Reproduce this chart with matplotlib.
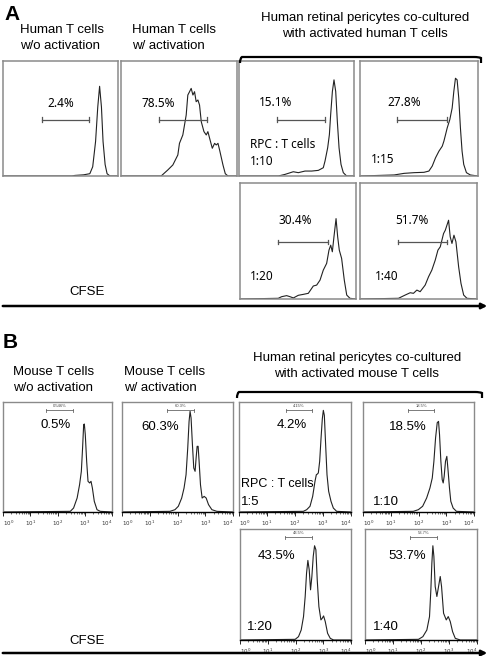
import matplotlib
matplotlib.use('Agg')
import matplotlib.pyplot as plt
from matplotlib.path import Path
from matplotlib.patches import PathPatch, FancyArrowPatch
from matplotlib.ticker import LogLocator, NullFormatter, FixedLocator
import numpy as np

W, H = 492, 656

# ---- panel A: CFSE histograms (x = fraction of channel range, y = fraction of panel height)
a_pct = ['2.4%', '78.5%', '15.1%', '27.8%', '30.4%', '51.7%']
a_ratio = ['', '', '1:10', '1:15', '1:20', '1:40']
a_gate = [(0.337, 0.75), (0.326, 0.744), (0.328, 0.748), (0.317, 0.739), (0.33, 0.756), (0.329, 0.743)]

a1_x = [0.0, 0.6, 0.625, 0.70, 0.755, 0.78, 0.805, 0.824, 0.84, 0.856, 0.87, 0.888, 0.905, 0.93, 1.0]
a1_y = [0.0, 0.0, 0.005, 0.01, 0.02, 0.08, 0.3, 0.6, 0.78, 0.6, 0.3, 0.1, 0.02, 0.0, 0.0]

a2_x = [0.0, 0.346, 0.403, 0.447, 0.49, 0.504, 0.533, 0.562, 0.576, 0.591, 0.605, 0.62, 0.634, 0.648,
        0.663, 0.677, 0.692, 0.715, 0.735, 0.749, 0.764, 0.787, 0.807, 0.821, 0.836, 0.85, 0.879,
        0.899, 0.922, 1.0]
a2_y = [0.0, 0.0, 0.052, 0.096, 0.183, 0.284, 0.357, 0.53, 0.704, 0.733, 0.762, 0.704, 0.733, 0.646,
        0.661, 0.617, 0.472, 0.386, 0.357, 0.386, 0.328, 0.241, 0.284, 0.27, 0.284, 0.226, 0.096,
        0.02, 0.0, 0.0]

a3_x = [0.0, 0.342, 0.4, 0.472, 0.516, 0.574, 0.632, 0.69, 0.733, 0.748, 0.771, 0.786, 0.797, 0.812,
        0.826, 0.841, 0.855, 0.87, 0.887, 0.907, 0.936, 1.0]
a3_y = [0.0, 0.0, 0.014, 0.037, 0.029, 0.043, 0.043, 0.049, 0.072, 0.13, 0.245, 0.36, 0.533, 0.735,
        0.836, 0.735, 0.476, 0.245, 0.101, 0.029, 0.0, 0.0]

a4_x = [0.0, 0.289, 0.374, 0.458, 0.542, 0.584, 0.612, 0.64, 0.669, 0.697, 0.711, 0.725, 0.739, 0.761,
        0.781, 0.795, 0.809, 0.823, 0.837, 0.851, 0.865, 0.879, 0.902, 0.935, 1.0]
a4_y = [0.0, 0.009, 0.023, 0.029, 0.032, 0.043, 0.086, 0.158, 0.216, 0.259, 0.303, 0.36, 0.418, 0.49,
        0.591, 0.735, 0.85, 0.836, 0.677, 0.418, 0.216, 0.101, 0.029, 0.009, 0.0]

a5_x = [0.0, 0.33, 0.359, 0.402, 0.431, 0.46, 0.503, 0.546, 0.589, 0.632, 0.661, 0.69, 0.718, 0.747,
        0.767, 0.782, 0.796, 0.81, 0.828, 0.842, 0.856, 0.876, 0.899, 0.92, 0.948, 1.0]
a5_y = [0.0, 0.006, 0.02, 0.029, 0.02, 0.009, 0.032, 0.04, 0.049, 0.112, 0.12, 0.163, 0.249, 0.307,
        0.421, 0.464, 0.407, 0.536, 0.693, 0.536, 0.421, 0.35, 0.163, 0.034, 0.006, 0.0]

a6_x = [0.0, 0.329, 0.386, 0.429, 0.457, 0.486, 0.514, 0.557, 0.586, 0.614, 0.643, 0.666, 0.686, 0.7,
        0.714, 0.729, 0.743, 0.757, 0.771, 0.786, 0.803, 0.82, 0.843, 0.863, 0.886, 0.914, 1.0]
a6_y = [0.0, 0.006, 0.034, 0.054, 0.049, 0.077, 0.063, 0.12, 0.192, 0.249, 0.335, 0.421, 0.45, 0.507,
        0.564, 0.593, 0.636, 0.679, 0.536, 0.479, 0.55, 0.493, 0.278, 0.135, 0.034, 0.006, 0.0]

# ---- panel B: CFSE histograms (x = log10 fluorescence, y = fraction of panel height)
b_pct = ['0.5%', '60.3%', '4.2%', '18.5%', '43.5%', '53.7%']
b_gate_lbl = ['0.546%', '60.3%', '4.15%', '18.5%', '43.5%', '53.7%']
b_ratio = ['', '', '1:5', '1:10', '1:20', '1:40']
b_gate = [(1.59, 2.57), (1.63, 2.6), (1.667, 2.619), (1.636, 2.567), (1.627, 2.59), (1.612, 2.567)]
decade_labels = [r'$10^{0}$', r'$10^{1}$', r'$10^{2}$', r'$10^{3}$', r'$10^{4}$']

b1_x = [0.0, 2.47, 2.59, 2.72, 2.81, 2.875, 2.92, 2.96, 2.985, 3.02, 3.07, 3.12, 3.18, 3.23, 3.28,
        3.35, 3.45, 3.57, 4.0]
b1_y = [0.0, 0.006, 0.036, 0.127, 0.248, 0.37, 0.58, 0.794, 0.8, 0.703, 0.461, 0.279, 0.264, 0.279,
        0.218, 0.097, 0.021, 0.006, 0.0]

b2_x = [0.0, 1.728, 1.909, 2.03, 2.151, 2.236, 2.308, 2.369, 2.417, 2.453, 2.489, 2.538, 2.586, 2.634,
        2.671, 2.707, 2.743, 2.779, 2.828, 2.888, 2.961, 3.033, 3.118, 3.239, 3.42, 4.0]
b2_y = [0.0, 0.006, 0.021, 0.052, 0.127, 0.218, 0.339, 0.582, 0.824, 0.915, 0.855, 0.612, 0.4, 0.37,
        0.491, 0.597, 0.597, 0.458, 0.248, 0.127, 0.142, 0.127, 0.067, 0.021, 0.006, 0.0]

b3_x = [0.0, 2.298, 2.417, 2.536, 2.631, 2.714, 2.762, 2.798, 2.833, 2.881, 2.929, 2.976, 3.012, 3.048,
        3.095, 3.143, 3.202, 3.286, 3.369, 3.488, 4.0]
b3_y = [0.0, 0.006, 0.021, 0.052, 0.142, 0.279, 0.339, 0.345, 0.355, 0.461, 0.667, 0.848, 0.924, 0.879,
        0.606, 0.339, 0.188, 0.097, 0.036, 0.006, 0.0]

b4_x = [0.0, 1.815, 1.994, 2.149, 2.293, 2.412, 2.496, 2.555, 2.615, 2.675, 2.722, 2.758, 2.806, 2.854,
        2.89, 2.925, 2.973, 3.021, 3.069, 3.116, 3.164, 3.248, 3.367, 4.0]
b4_y = [0.0, 0.006, 0.021, 0.052, 0.127, 0.218, 0.309, 0.461, 0.673, 0.812, 0.824, 0.703, 0.461, 0.294,
        0.264, 0.324, 0.461, 0.506, 0.367, 0.218, 0.097, 0.036, 0.006, 0.0]

b5_x = [0.0, 1.988, 2.108, 2.205, 2.289, 2.349, 2.398, 2.446, 2.494, 2.542, 2.59, 2.639, 2.687, 2.735,
        2.783, 2.843, 2.916, 2.964, 3.012, 3.072, 3.157, 3.253, 3.373, 4.0]
b5_y = [0.0, 0.006, 0.03, 0.09, 0.211, 0.392, 0.602, 0.717, 0.633, 0.452, 0.572, 0.753, 0.849, 0.813,
        0.542, 0.301, 0.181, 0.196, 0.217, 0.166, 0.06, 0.015, 0.0, 0.0]

b6_x = [0.0, 1.91, 2.066, 2.209, 2.304, 2.352, 2.388, 2.424, 2.46, 2.507, 2.567, 2.627, 2.687, 2.734,
        2.806, 2.902, 2.973, 3.045, 3.128, 3.224, 3.403, 4.0]
b6_y = [0.0, 0.006, 0.03, 0.09, 0.211, 0.452, 0.693, 0.849, 0.753, 0.482, 0.392, 0.482, 0.572, 0.482,
        0.241, 0.181, 0.211, 0.166, 0.075, 0.015, 0.0, 0.0]

a_curves = [(a1_x, a1_y), (a2_x, a2_y), (a3_x, a3_y), (a4_x, a4_y), (a5_x, a5_y), (a6_x, a6_y)]
b_curves = [(b1_x, b1_y), (b2_x, b2_y), (b3_x, b3_y), (b4_x, b4_y), (b5_x, b5_y), (b6_x, b6_y)]

# panel boxes in pixels (left, top, right, bottom)
a_boxes = [(3, 61, 118, 176), (121, 61, 237, 176), (239, 61, 354, 176),
           (360, 61, 478, 176), (240, 183, 356, 299), (360, 183, 477, 299)]
b_boxes = [(3, 402, 112, 512), (122, 402, 233, 512), (239, 402, 351, 512),
           (363, 402, 474, 512), (240, 529, 351, 640), (365, 529, 477, 640)]

# label positions (axes fraction) for each panel
a_pct_pos = [(0.5, 0.63), (0.317, 0.63), (0.319, 0.64), (0.374, 0.64), (0.474, 0.673), (0.443, 0.673)]
a_ratio_pos = [None, None, (0.096, 0.13), (0.093, 0.144), (0.086, 0.192), (0.123, 0.192)]
b_pct_pos = [(0.485, 0.788), (0.341, 0.773), (0.47, 0.788), (0.403, 0.773), (0.331, 0.753), (0.373, 0.753)]
b_ratio_pos = [None, None, (0.018, 0.09), (0.09, 0.09), (0.06, 0.12), (0.075, 0.12)]

SANS = 'Liberation Sans'
HUMAN = 'Noto Sans'

fig = plt.figure(figsize=(W / 100, H / 100), dpi=100)
fig.patch.set_facecolor('white')


def px_axes(box):
    l, t, r, b = box
    return fig.add_axes([l / W, 1 - b / H, (r - l) / W, (b - t) / H])


def fig_text(x, y, s, **kw):
    fig.text(x / W, 1 - y / H, s, **kw)


def brace(x0, x1, y):
    # curly bracket over the co-culture panels (figure pixel coords)
    pts = [(x0, y + 6), (x0, y + 1), (x0 + 2, y), (x0 + 7, y),
           (x1 - 7, y), (x1 - 2, y), (x1, y + 1), (x1, y + 6)]
    pts = [(px / W, 1 - py / H) for px, py in pts]
    codes = [Path.MOVETO, Path.CURVE3, Path.CURVE3, Path.LINETO,
             Path.LINETO, Path.CURVE3, Path.CURVE3, Path.LINETO]
    fig.add_artist(PathPatch(Path(pts, codes), transform=fig.transFigure,
                             fill=False, lw=1.6, color='black'))


def axis_arrow(y):
    fig.add_artist(FancyArrowPatch((0, 1 - y / H), (490 / W, 1 - y / H), transform=fig.transFigure,
                                   arrowstyle='-|>', mutation_scale=8, lw=1.8, color='black'))


def gate(ax, x0, x1, y, color, cap, lw):
    ax.plot([x0, x1], [y, y], color=color, lw=lw)
    for xx in (x0, x1):
        ax.plot([xx, xx], [y - cap, y + cap], color=color, lw=lw)


# ---------------- A ----------------
for i, box in enumerate(a_boxes):
    ax = px_axes(box)
    x, y = a_curves[i]
    ax.plot(x, y, color='#222222', lw=0.8)
    ax.set_xlim(0, 1)
    ax.set_ylim(0, 1)
    ax.set_xticks([])
    ax.set_yticks([])
    for s in ax.spines.values():
        s.set_color('#8a8a8a')
        s.set_linewidth(1.1)
    g0, g1 = a_gate[i]
    gate(ax, g0, g1, 0.49, '#555555', 0.02, 0.9)
    ax.text(*a_pct_pos[i], a_pct[i], transform=ax.transAxes, ha='center', va='center',
            fontsize=8.5, family=HUMAN)
    if a_ratio_pos[i] is not None:
        ax.text(*a_ratio_pos[i], a_ratio[i], transform=ax.transAxes, ha='left', va='center',
                fontsize=8.5, family=HUMAN)
    if i == 2:
        ax.text(0.096, 0.274, 'RPC : T cells', transform=ax.transAxes, ha='left', va='center',
                fontsize=8.5, family=HUMAN)

fig_text(4, 15, 'A', fontsize=15, fontweight='bold', family=SANS, va='center')
fig_text(20, 30, 'Human T cells', fontsize=9.5, family=SANS, va='center')
fig_text(20, 46, 'w/o activation', fontsize=9.5, family=SANS, va='center')
fig_text(132, 30, 'Human T cells', fontsize=9.5, family=SANS, va='center')
fig_text(132, 46, 'w/ activation', fontsize=9.5, family=SANS, va='center')
fig_text(365, 18, 'Human retinal pericytes co-cultured', fontsize=9.5, family=SANS, va='center', ha='center')
fig_text(365, 34, 'with activated human T cells', fontsize=9.5, family=SANS, va='center', ha='center')
brace(240, 481, 57)
fig_text(87, 292, 'CFSE', fontsize=9.5, family=SANS, va='center', ha='center')
axis_arrow(306)

# ---------------- B ----------------
for i, box in enumerate(b_boxes):
    ax = px_axes(box)
    x, y = b_curves[i]
    ax.plot(10 ** np.array(x), y, color='#222222', lw=0.8)
    ax.set_xscale('log')
    ax.set_xlim(1, 1e4)
    ax.set_ylim(0, 1)
    ax.set_yticks([])
    ax.xaxis.set_major_locator(FixedLocator([1, 10, 100, 1000, 10000]))
    ax.set_xticklabels(decade_labels)
    ax.xaxis.set_minor_locator(LogLocator(base=10, subs=np.arange(2, 10)))
    ax.xaxis.set_minor_formatter(NullFormatter())
    ax.tick_params(axis='x', which='major', length=3, width=0.6, labelsize=4,
                   labelcolor='#333333', pad=1.5, direction='out')
    ax.tick_params(axis='x', which='minor', length=1.5, width=0.4, direction='out')
    tl = ax.get_xticklabels()
    tl[0].set_horizontalalignment('left')
    tl[-1].set_horizontalalignment('right')
    for s in ax.spines.values():
        s.set_color('#8a8a8a')
        s.set_linewidth(1.0)
    ax.spines['bottom'].set_color('black')
    g0, g1 = b_gate[i]
    gate(ax, 10 ** g0, 10 ** g1, 0.925, '#666666', 0.015, 0.6)
    ax.text(10 ** ((g0 + g1) / 2), 0.965, b_gate_lbl[i], ha='center', va='center',
            fontsize=3, family=SANS, color='#444444')
    ax.text(*b_pct_pos[i], b_pct[i], transform=ax.transAxes, ha='center', va='center',
            fontsize=9.5, family=SANS)
    if b_ratio_pos[i] is not None:
        ax.text(*b_ratio_pos[i], b_ratio[i], transform=ax.transAxes, ha='left', va='center',
                fontsize=9.5, family=SANS)
    if i == 2:
        ax.text(0.018, 0.258, 'RPC : T cells', transform=ax.transAxes, ha='left', va='center',
                fontsize=9, family=SANS)

fig_text(3, 343, 'B', fontsize=15, fontweight='bold', family=SANS, va='center')
fig_text(13, 372, 'Mouse T cells', fontsize=9.5, family=SANS, va='center')
fig_text(13, 388, 'w/o activation', fontsize=9.5, family=SANS, va='center')
fig_text(124, 372, 'Mouse T cells', fontsize=9.5, family=SANS, va='center')
fig_text(124, 388, 'w/ activation', fontsize=9.5, family=SANS, va='center')
fig_text(357, 358, 'Human retinal pericytes co-cultured', fontsize=9.5, family=SANS, va='center', ha='center')
fig_text(357, 374, 'with activated mouse T cells', fontsize=9.5, family=SANS, va='center', ha='center')
brace(237, 482, 392)
fig_text(87, 641, 'CFSE', fontsize=9.5, family=SANS, va='center', ha='center')
axis_arrow(653)

fig.savefig('out.png', dpi=100, facecolor='white')
